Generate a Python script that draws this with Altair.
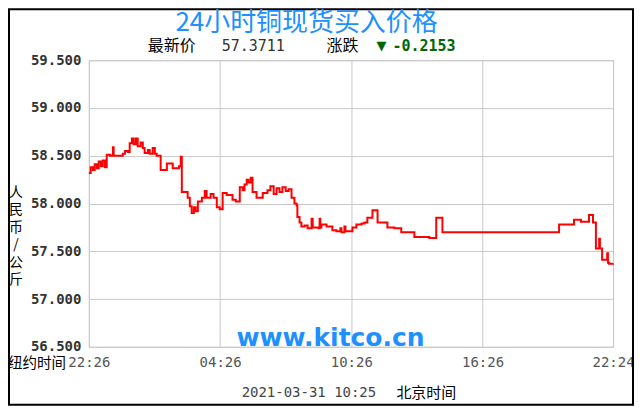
import altair as alt
import pandas as pd

# minutes after 22:26 (New York time) and price (CNY/kg, thousands)
minutes = [0, 5, 11, 16, 22, 27, 33, 38, 44, 49, 58, 66, 68, 82, 93, 99, 107, 112, 118, 123,
           129, 134, 142, 148, 153, 162, 167, 175, 181, 186, 192, 197, 214, 230, 247, 252, 255,
           266, 271, 277, 282, 288, 293, 299, 310, 318, 323, 334, 342, 351, 359, 367, 378, 394,
           403, 414, 422, 427, 433, 438, 444, 449, 460, 477, 490, 498, 507, 515, 523, 531, 540,
           548, 556, 564, 570, 572, 578, 583, 592, 600, 611, 614, 630, 633, 635, 638, 652, 668,
           679, 690, 693, 701, 704, 720, 723, 734, 748, 756, 764, 778, 792, 819, 838, 857, 893,
           934, 953, 970, 1290, 1331, 1350, 1372, 1383, 1391, 1400, 1402, 1408, 1422, 1424, 1427,
           1438]
prices = [58.32, 58.38, 58.35, 58.41, 58.37, 58.44, 58.39, 58.45, 58.38, 58.51, 58.50, 58.59,
          58.50, 58.50, 58.52, 58.55, 58.54, 58.63, 58.68, 58.62, 58.68, 58.60, 58.64, 58.58,
          58.53, 58.56, 58.52, 58.58, 58.52, 58.50, 58.50, 58.35, 58.42, 58.37, 58.39, 58.49,
          58.12, 58.12, 58.06, 57.97, 57.90, 57.96, 57.92, 58.02, 58.06, 58.13, 58.06, 58.10,
          58.06, 57.96, 57.94, 58.11, 58.09, 58.04, 58.02, 58.17, 58.14, 58.20, 58.25, 58.22,
          58.27, 58.12, 58.06, 58.11, 58.14, 58.18, 58.10, 58.16, 58.12, 58.17, 58.13, 58.15,
          58.06, 58.00, 57.98, 57.86, 57.80, 57.76, 57.77, 57.74, 57.84, 57.75, 57.74, 57.84,
          57.75, 57.78, 57.76, 57.72, 57.71, 57.74, 57.70, 57.76, 57.71, 57.71, 57.75, 57.78,
          57.79, 57.80, 57.85, 57.93, 57.80, 57.75, 57.74, 57.70, 57.65, 57.64, 57.85, 57.70,
          57.78, 57.83, 57.81, 57.88, 57.80, 57.53, 57.63, 57.53, 57.41, 57.48, 57.38, 57.37,
          57.3711]

tick_minutes = [0, 360, 720, 1080, 1438]
tick_labels = ["22:26", "04:26", "10:26", "16:26", "22:24"]
y_ticks = [56.5, 57.0, 57.5, 58.0, 58.5, 59.0, 59.5]

title_text = "24小时铜现货买入价格"
latest_label = "最新价"
latest_value = "57.3711"
change_label = "涨跌"
change_value = "-0.2153"
y_title = ["人", "民", "币", "/", "公", "斤"]
ny_time = "纽约时间"
stamp = "2021-03-31 10:25"
bj_time = "北京时间"
watermark = "www.kitco.cn"

df = pd.DataFrame({"m": minutes, "p": prices})
one = pd.DataFrame({"a": [0]})

label_expr = ""
for v, l in zip(tick_minutes, tick_labels):
    label_expr += f"datum.value == {v} ? '{l}' : "
label_expr += "''"

MONO = "DejaVu Sans Mono"
CJK = "Noto Sans CJK SC"

line = alt.Chart(df).mark_line(color="#ff0000", strokeWidth=2, interpolate="step-after").encode(
    x=alt.X("m:Q", scale=alt.Scale(domain=[0, 1438], nice=False, zero=False),
            axis=alt.Axis(values=tick_minutes, labelExpr=label_expr, title=None, grid=True,
                          ticks=False, domain=False, labelFont=MONO, labelFontSize=14,
                          labelColor="#555555", labelPadding=9, labelFlush=False,
                          labelOverlap=False)),
    y=alt.Y("p:Q", scale=alt.Scale(domain=[56.5, 59.5], nice=False, zero=False),
            axis=alt.Axis(values=y_ticks, format=".3f", title=None, grid=True, ticks=False,
                          domain=False, labelFont=MONO, labelFontSize=14, labelFontWeight="bold",
                          labelColor="#333333", labelPadding=8, labelOverlap=False)),
)


def txt(text, x, y, size, color="#000000", font=CJK, align="left", weight="normal", **kw):
    return alt.Chart(one).mark_text(text=text, font=font, fontSize=size, color=color, align=align,
                                    baseline="middle", fontWeight=weight, **kw).encode(
        x=alt.value(x), y=alt.value(y))


frame = alt.Chart(one).mark_rect(fillOpacity=0, stroke="#000000", strokeWidth=2).encode(
    x=alt.value(-80), x2=alt.value(545), y=alt.value(-51), y2=alt.value(345))

layers = [
    frame,
    line,
    txt(title_text, 218, -37, 26, color="#1E90FF", align="center"),
    txt(latest_label, 59, -14, 16),
    txt(latest_value, 133, -14, 15, color="#333333", font=MONO),
    txt(change_label, 238, -14, 16),
    txt("▼", 288, -14, 13, color="#006600", font="DejaVu Sans"),
    txt(change_value, 304, -14, 15, color="#006600", font=MONO, weight="bold"),
    txt(y_title, -73, 133, 14, align="center", lineHeight=17.5),
    txt(ny_time, -23, 304, 14.5, align="right"),
    txt(stamp, 153, 333, 14, color="#444444", font=MONO),
    txt(bj_time, 308, 333, 15),
    txt(watermark, 242, 278, 25, color="#1E90FF", font="DejaVu Sans", align="center",
        weight="bold"),
]

chart = alt.layer(*layers).properties(
    width=525, height=287,
    autosize=alt.AutoSizeParams(type="none"),
    padding={"left": 81, "top": 52, "right": 22, "bottom": 60},
    background="#ffffff",
).configure_view(stroke="#c8c8c8").configure_axis(gridColor="#c8c8c8", gridWidth=1)

chart.save("out.html", embed_options={"renderer": "svg", "actions": False})
